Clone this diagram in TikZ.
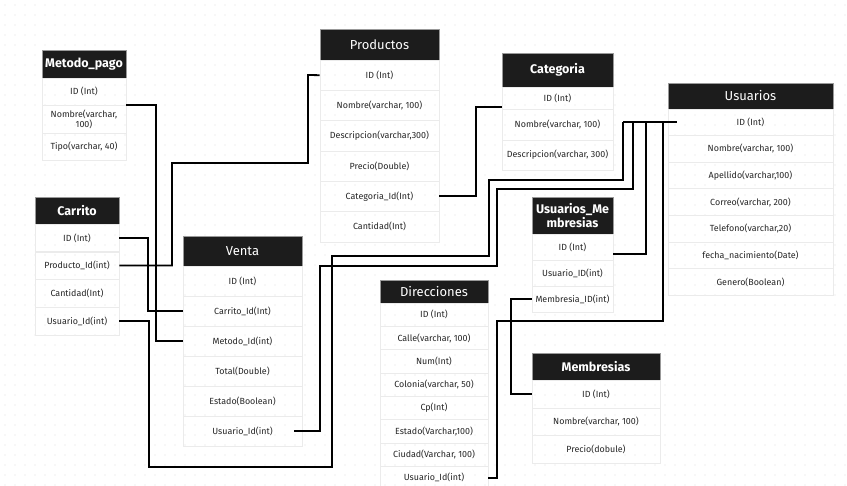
\documentclass[tikz,border=0pt]{standalone}
\usepackage{fontspec}
\setmainfont{Fira Sans}
\usepackage{tikz}
\usetikzlibrary{calc,positioning}

\definecolor{headgray}{HTML}{1C1C1C}
\definecolor{rowline}{HTML}{EBEBEB}
\definecolor{gridgray}{HTML}{E0E0E0}

\begin{document}
\begin{tikzpicture}[x=1pt,y=-1pt]

	\tikzstyle{head} = [rectangle, fill=headgray, draw=black!40, line width=0.4pt,
		text=white, inner sep=0pt, align=center, font=\fontsize{13}{13.5}\selectfont]
	\tikzstyle{head_bold} = [head, font=\fontsize{12.5}{13.5}\selectfont\bfseries]
	\tikzstyle{row} = [rectangle, draw=rowline, line width=0.6pt, inner sep=0pt,
		text=black!85, align=center, font=\fontsize{8.9}{10}\selectfont]
	\tikzstyle{link} = [draw, line width=1.8pt, black]

	\useasboundingbox (0,0) rectangle (847,486);
	\clip (0,0) rectangle (847,486);
	\fill[white] (0,0) rectangle (847,486);

	%grid
	\foreach \i in {5,15,...,845} {
		\foreach \j in {5,15,...,485} {
			\fill[gridgray] (\i,\j) circle (0.55pt);
		}
	}

	%Metodo_pago
	\node[head_bold, minimum width=84pt, minimum height=28pt] (mp) at (84,64) {Metodo\_pago};
	\node[row, minimum width=84pt, minimum height=27pt] (mp1) at (84,91.5) {ID (Int)};
	\node[row, minimum width=84pt, minimum height=28pt] (mp2) at (84,119) {Nombre(varchar,\\100)};
	\node[row, minimum width=84pt, minimum height=27pt] (mp3) at (84,146.5) {Tipo(varchar, 40)};

	%Carrito
	\node[head_bold, minimum width=84pt, minimum height=27pt] (ca) at (77,210.5) {Carrito};
	\node[row, minimum width=84pt, minimum height=27.7pt] (ca1) at (77,238) {ID (Int)};
	\node[row, minimum width=84pt, minimum height=27.7pt] (ca2) at (77,265.5) {Producto\_Id(int)};
	\node[row, minimum width=84pt, minimum height=27.7pt] (ca3) at (77,293) {Cantidad(Int)};
	\node[row, minimum width=84pt, minimum height=27.7pt] (ca4) at (77,321) {Usuario\_Id(int)};

	%Venta
	\node[head, minimum width=119pt, minimum height=30pt] (ve) at (242.5,251) {Venta};
	\node[row, minimum width=119pt, minimum height=30pt] (ve1) at (242.5,281) {ID (Int)};
	\node[row, minimum width=119pt, minimum height=30pt] (ve2) at (242.5,311) {Carrito\_Id(Int)};
	\node[row, minimum width=119pt, minimum height=30pt] (ve3) at (242.5,341) {Metodo\_Id(int)};
	\node[row, minimum width=119pt, minimum height=30pt] (ve4) at (242.5,371) {Total(Double)};
	\node[row, minimum width=119pt, minimum height=30pt] (ve5) at (242.5,401) {Estado(Boolean)};
	\node[row, minimum width=119pt, minimum height=30pt] (ve6) at (242.5,431) {Usuario\_Id(int)};

	%Productos
	\node[head, minimum width=119pt, minimum height=31pt] (pr) at (379.5,44.5) {Productos};
	\node[row, minimum width=119pt, minimum height=30.3pt] (pr1) at (379.5,75.2) {ID (Int)};
	\node[row, minimum width=119pt, minimum height=30.3pt] (pr2) at (379.5,105.5) {Nombre(varchar, 100)};
	\node[row, minimum width=119pt, minimum height=30.3pt] (pr3) at (379.5,135.8) {Descripcion(varchar,300)};
	\node[row, minimum width=119pt, minimum height=30.3pt] (pr4) at (379.5,166.1) {Precio(Double)};
	\node[row, minimum width=119pt, minimum height=30.3pt] (pr5) at (379.5,196.4) {Categoria\_Id(Int)};
	\node[row, minimum width=119pt, minimum height=30.3pt] (pr6) at (379.5,226.7) {Cantidad(Int)};

	%Categoria
	\node[head_bold, minimum width=111pt, minimum height=34pt] (cat) at (557.5,70) {Categoria};
	\node[row, minimum width=111pt, minimum height=22pt] (cat1) at (557.5,98) {ID (Int)};
	\node[row, minimum width=111pt, minimum height=31pt] (cat2) at (557.5,124.5) {Nombre(varchar, 100)};
	\node[row, minimum width=111pt, minimum height=30pt] (cat3) at (557.5,155) {Descripcion(varchar, 300)};

	%Usuarios
	\node[head, minimum width=165pt, minimum height=26pt] (us) at (750.5,96) {Usuarios};
	\node[row, minimum width=165pt, minimum height=26.6pt] (us1) at (750.5,122.3) {ID (Int)};
	\node[row, minimum width=165pt, minimum height=26.6pt] (us2) at (750.5,148.9) {Nombre(varchar, 100)};
	\node[row, minimum width=165pt, minimum height=26.6pt] (us3) at (750.5,175.5) {Apellido(varchar,100)};
	\node[row, minimum width=165pt, minimum height=26.6pt] (us4) at (750.5,202.1) {Correo(varchar, 200)};
	\node[row, minimum width=165pt, minimum height=26.6pt] (us5) at (750.5,228.7) {Telefono(varchar,20)};
	\node[row, minimum width=165pt, minimum height=26.6pt] (us6) at (750.5,255.3) {fecha\_nacimiento(Date)};
	\node[row, minimum width=165pt, minimum height=26.6pt] (us7) at (750.5,281.9) {Genero(Boolean)};

	%Usuarios_Membresias
	\node[head_bold, minimum width=81pt, minimum height=37pt] (um) at (572.5,215.5) {Usuarios\_Me\\mbresias};
	\node[row, minimum width=81pt, minimum height=26pt] (um1) at (572.5,247) {ID (Int)};
	\node[row, minimum width=81pt, minimum height=26pt] (um2) at (572.5,273) {Usuario\_ID(int)};
	\node[row, minimum width=81pt, minimum height=26pt] (um3) at (572.5,299) {Membresia\_ID(int)};

	%Direcciones
	\node[head, minimum width=108pt, minimum height=23pt] (di) at (434,291.5) {Direcciones};
	\node[row, minimum width=108pt, minimum height=23.3pt] (di1) at (434,314.7) {ID (Int)};
	\node[row, minimum width=108pt, minimum height=23.3pt] (di2) at (434,338) {Calle(varchar, 100)};
	\node[row, minimum width=108pt, minimum height=23.3pt] (di3) at (434,361.3) {Num(Int)};
	\node[row, minimum width=108pt, minimum height=23.3pt] (di4) at (434,384.6) {Colonia(varchar, 50)};
	\node[row, minimum width=108pt, minimum height=23.3pt] (di5) at (434,407.9) {Cp(Int)};
	\node[row, minimum width=108pt, minimum height=23.3pt] (di6) at (434,431.2) {Estado(Varchar,100)};
	\node[row, minimum width=108pt, minimum height=23.3pt] (di7) at (434,454.5) {Ciudad(Varchar, 100)};
	\node[row, minimum width=108pt, minimum height=23.3pt] (di8) at (434,477.8) {Usuario\_Id(int)};

	%Membresias
	\node[head_bold, minimum width=128pt, minimum height=27pt] (me) at (596,366.5) {Membresias};
	\node[row, minimum width=128pt, minimum height=27.7pt] (me1) at (596,394) {ID (Int)};
	\node[row, minimum width=128pt, minimum height=27.7pt] (me2) at (596,421.7) {Nombre(varchar, 100)};
	\node[row, minimum width=128pt, minimum height=27.7pt] (me3) at (596,449.4) {Precio(dobule)};

	%links
	\draw[link] (mp1.south east) -- ++(30,0) |- (ve3.west);
	\draw[link] (ca1.east) -- ++(29,0) |- (ve2.west);
	\draw[link] (ca2.east) -| (172,163) -| (308,75) -- (pr1.west);
	\draw[link] (pr5.east) -| ($(cat1.south west)+(-26,-2)$) -- ($(cat1.south west)+(0,-2)$);
	\draw[link] (um3.west) -- ++(-21,0) |- (me1.west);

	%links to Usuarios
	\draw[link] ([xshift=9pt]us1.west) -- ++(-54,0) coordinate (bus);
	\draw[link] (bus) |- (489,180) |- (332,256) |- (149,467) |- (ca4.east);
	\draw[link] ([xshift=10pt]bus) |- (497,189) |- (320,266) |- ([xshift=-8pt]ve6.east);
	\draw[link] ([xshift=23pt]bus) |- ([yshift=-7pt]um1.east);
	\draw[link] ([xshift=40pt]bus) |- (497,321) |- (di8.east);
\end{tikzpicture}
\end{document}
